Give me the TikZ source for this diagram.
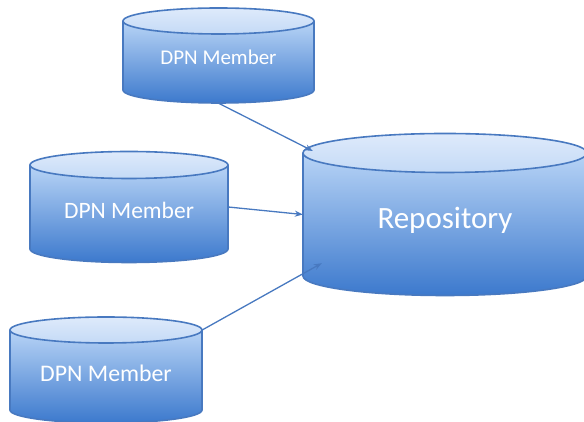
\documentclass[tikz,border=0pt]{standalone}
\usepackage{fontspec}
\setmainfont{Carlito}
\usetikzlibrary{calc,arrows.meta,positioning,shapes.geometric}
\definecolor{dbline}{RGB}{72,121,192}
\definecolor{dbhi}{RGB}{184,212,246}
\definecolor{dblo}{RGB}{60,121,205}
\definecolor{dbcap}{RGB}{222,234,251}
\definecolor{dbcapdark}{RGB}{196,218,246}
\tikzset{
  dbbody/.style={top color=dbhi, bottom color=dblo},
  dbedge/.style={draw=dbline, line width=1.6pt},
  dbcapfill/.style={top color=dbcap, bottom color=dbcapdark},
  dblbl/.style={text=white, inner sep=0pt},
  link/.style={draw=dbline, line width=1.3pt, -{Stealth[length=8pt,width=6pt]}},
}
% cylinder: name, cx, rx, top y, bottom y, ry, font size, text
\newcommand{\dbcyl}[8]{%
  \path[dbbody] (#2-#3,#4) -- (#2-#3,#5)
    arc[start angle=180, end angle=360, x radius=#3, y radius=#6] -- (#2+#3,#4) -- cycle;
  \draw[dbedge] (#2-#3,#4) -- (#2-#3,#5)
    arc[start angle=180, end angle=360, x radius=#3, y radius=#6] -- (#2+#3,#4);
  \draw[dbedge, dbcapfill] (#2,#4) ellipse[x radius=#3, y radius=#6];
  \node[ellipse, inner sep=0pt, minimum width={2*#3*1pt}, minimum height={2*#6*1pt}] (#1-top) at (#2,#4) {};
  \node[inner sep=0pt, minimum width={2*#3*1pt}, minimum height={(#4-#5+2*#6)*1pt}] (#1) at (#2,{(#4+#5)/2}) {};
  \node[dblbl, font=\fontsize{#7}{#7}\selectfont] (#1-lbl) at ([yshift={-(#7-15)*0.37pt}]#1.center) {#8};
}

\begin{document}
\begin{tikzpicture}[x=1pt,y=1pt]
  \useasboundingbox (0,0) rectangle (584,422);
  \clip (0,0) rectangle (584,422);

  %% members and repository
  \dbcyl{mem1}{218.5}{95.5}{401}{332}{13}{21}{DPN Member}
  \dbcyl{mem2}{129}{99}{257}{173}{13.5}{23.5}{DPN Member}
  \dbcyl{mem3}{106}{96}{92}{12}{13}{23.8}{DPN Member}
  \dbcyl{repo}{445}{142}{269}{146}{19.5}{31}{Repository}

  % arrow ends inside the repository
  \coordinate (in1) at ($(repo-top.west)+(10,2)$);
  \coordinate (in3) at ($(repo.south west)+(19,32.5)$);

  \draw[link] (mem1.south) -- (in1);
  \draw[link] (mem2.east) -- (repo.west);
  \draw[link] (mem3-top.east) -- (in3);
\end{tikzpicture}
\end{document}
